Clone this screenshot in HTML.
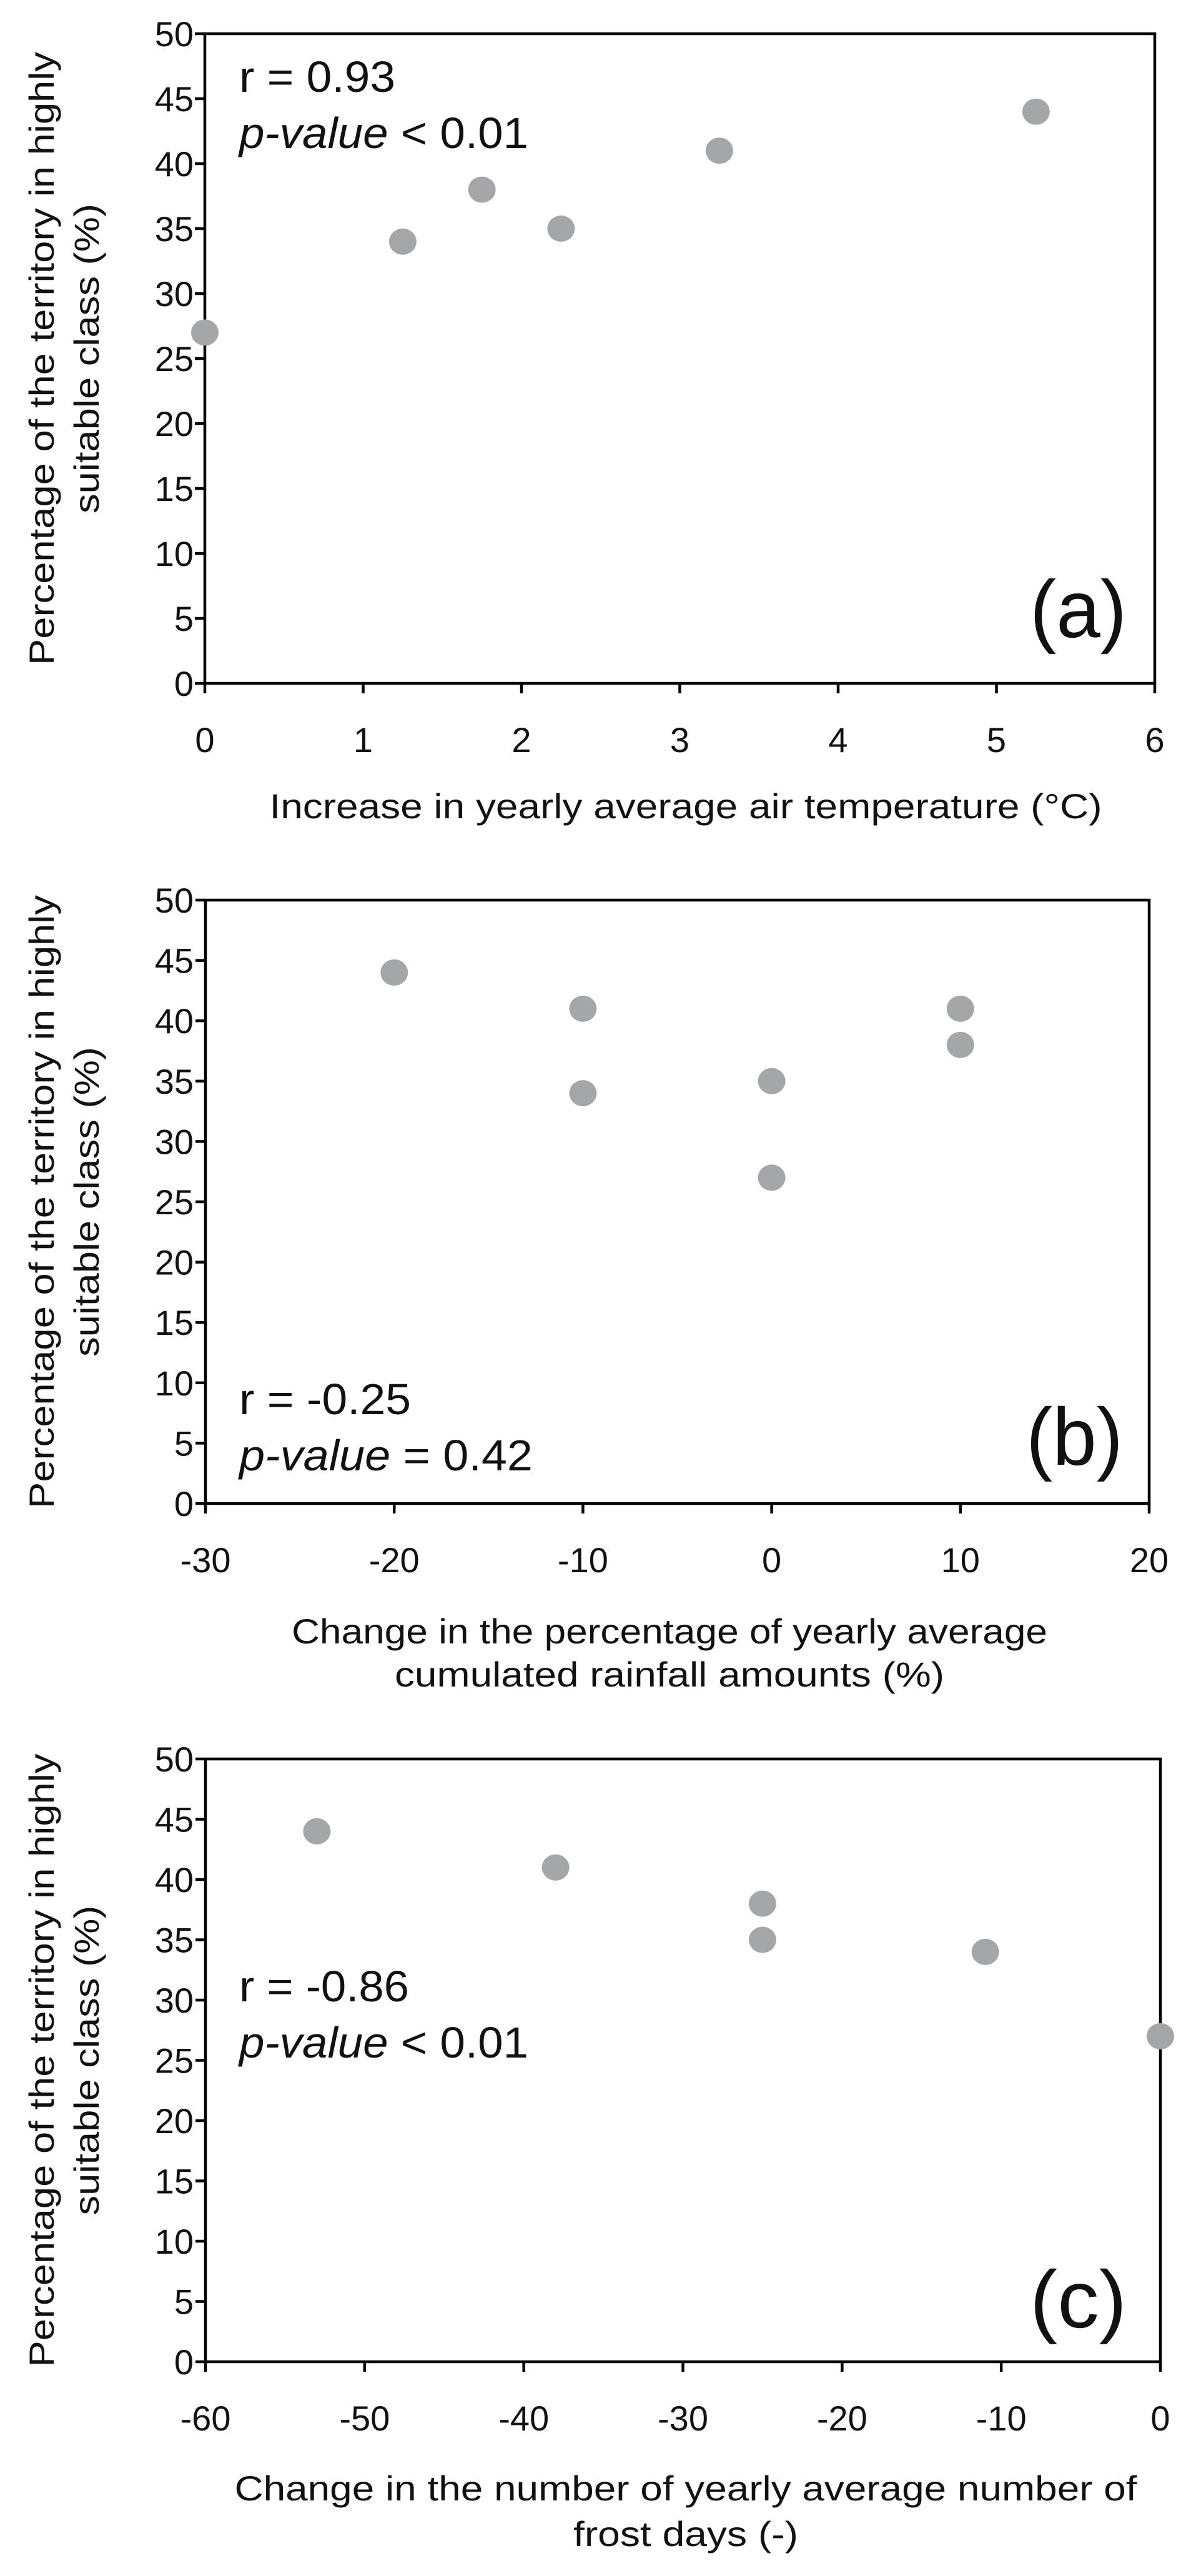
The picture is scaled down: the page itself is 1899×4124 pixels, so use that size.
<!DOCTYPE html>
<html><head><meta charset="utf-8"><style>
html,body{margin:0;padding:0;background:#fff;}
svg{display:block;}
text{font-family:"Liberation Sans",Arial,sans-serif;fill:#111;}
</style></head>
<body>
<svg id="fig" width="1899" height="4124" viewBox="0 0 1899 4124" xmlns="http://www.w3.org/2000/svg"></svg>
<script>
const yTicks = [0,5,10,15,20,25,30,35,40,45,50];
// Panel (a)
const aX = [0,1.25,1.75,2.25,3.25,5.25];
const aY = [27,34,38,35,41,44];
const aXTicks = [0,1,2,3,4,5,6];
// Panel (b)
const bX = [-20,-10,-10,0,0,10,10];
const bY = [44,41,34,35,27,41,38];
const bXTicks = [-30,-20,-10,0,10,20];
// Panel (c)
const cX = [-53,-38,-25,-25,-11,0];
const cY = [44,41,38,35,34,27];
const cXTicks = [-60,-50,-40,-30,-20,-10,0];

const NS='http://www.w3.org/2000/svg';
const svg=document.getElementById('fig');
function mk(tag,attrs,parent){const e=document.createElementNS(NS,tag);for(const k in attrs)e.setAttribute(k,attrs[k]);(parent||svg).appendChild(e);return e;}

function panel(p){
  const g=mk('g',{});
  
  
  const xmin=p.xt[0], xmax=p.xt[p.xt.length-1];
  const sx=v=>p.L+(v-xmin)/(xmax-xmin)*(p.R-p.L);
  const sy=v=>p.B-(v/50)*(p.B-p.T);
  const frame=mk('rect',{x:p.L,y:p.T,width:p.R-p.L,height:p.B-p.T,fill:'none',stroke:'#000','stroke-width':4.5},g);
  
  
  yTicks.forEach(v=>{
    const y=sy(v);
    const t=mk('line',{x1:p.L-16,x2:p.L,y1:y,y2:y,stroke:'#000','stroke-width':4.5},g);
    
    
    const tx=mk('text',{x:310,y:y+20,'font-size':56,'text-anchor':'end'},g);
    tx.textContent=v;
    
    
  });
  p.xt.forEach(v=>{
    const x=sx(v);
    const t=mk('line',{x1:x,x2:x,y1:p.B,y2:p.B+16,stroke:'#000','stroke-width':4.5},g);
    
    
    const tx=mk('text',{x:x,y:p.B+110,'font-size':56,'text-anchor':'middle'},g);
    tx.textContent=v;
    
    
  });
  p.xs.forEach((xv,i)=>{
    const c=mk('ellipse',{cx:sx(xv),cy:sy(p.ys[i]),rx:22,ry:21,fill:'#a5a6a9'},g);
    
    
  });
  const cy=(p.T+p.B)/2;
  const y1=mk('text',{x:0,y:0,'font-size':56,'text-anchor':'middle',transform:`translate(86,${cy}) rotate(-90)`,textLength:982,lengthAdjust:'spacingAndGlyphs'},g);
  y1.textContent='Percentage of the territory in highly';
  
  
  const y2=mk('text',{x:0,y:0,'font-size':56,'text-anchor':'middle',transform:`translate(158,${cy}) rotate(-90)`,textLength:496,lengthAdjust:'spacingAndGlyphs'},g);
  y2.textContent='suitable class (%)';
  
  
  p.titles.forEach(tl=>{
    const t=mk('text',{x:tl[1],y:tl[2],'font-size':56,'text-anchor':'middle',textLength:tl[3],lengthAdjust:'spacingAndGlyphs'},g);
    t.textContent=tl[0];
    
    
  });
  const r=mk('text',{x:383,y:p.rY,'font-size':70,textLength:p.rW,lengthAdjust:'spacingAndGlyphs'},g);
  r.textContent=p.r;
  
  
  const pv=mk('text',{x:383,y:p.rY+90,'font-size':70,textLength:p.pW,lengthAdjust:'spacingAndGlyphs'},g);
  
  
  const it=mk('tspan',{'font-style':'italic'},pv); it.textContent='p-value';
  const rest=mk('tspan',{},pv); rest.textContent=p.p;
  const lab=mk('text',{x:p.labX,y:p.labY,'font-size':130,textLength:155,lengthAdjust:'spacingAndGlyphs'},g);
  lab.textContent=p.lab;
  
  
}

panel({id:'a',L:328,R:1849,T:54,B:1094,xt:aXTicks,xs:aX,ys:aY,
  titles:[['Increase in yearly average air temperature (°C)',1098,1310,1333]],
  r:'r = 0.93',p:' < 0.01',rY:147,rW:250,pW:463,lab:'(a)',labX:1649,labY:1020});
panel({id:'b',L:329,R:1840,T:1441,B:2407,xt:bXTicks,xs:bX,ys:bY,
  titles:[['Change in the percentage of yearly average',1072,2631,1210],['cumulated rainfall amounts (%)',1072,2700,880]],
  r:'r = -0.25',p:' = 0.42',rY:2264,rW:275,pW:470,lab:'(b)',labX:1643,labY:2345});
panel({id:'c',L:329,R:1858,T:2816,B:3781,xt:cXTicks,xs:cX,ys:cY,
  titles:[['Change in the number of yearly average number of',1098,4003,1445],['frost days (-)',1098,4076,360]],
  r:'r = -0.86',p:' < 0.01',rY:3204,rW:272,pW:463,lab:'(c)',labX:1649,labY:3726});
</script>
</body></html>
